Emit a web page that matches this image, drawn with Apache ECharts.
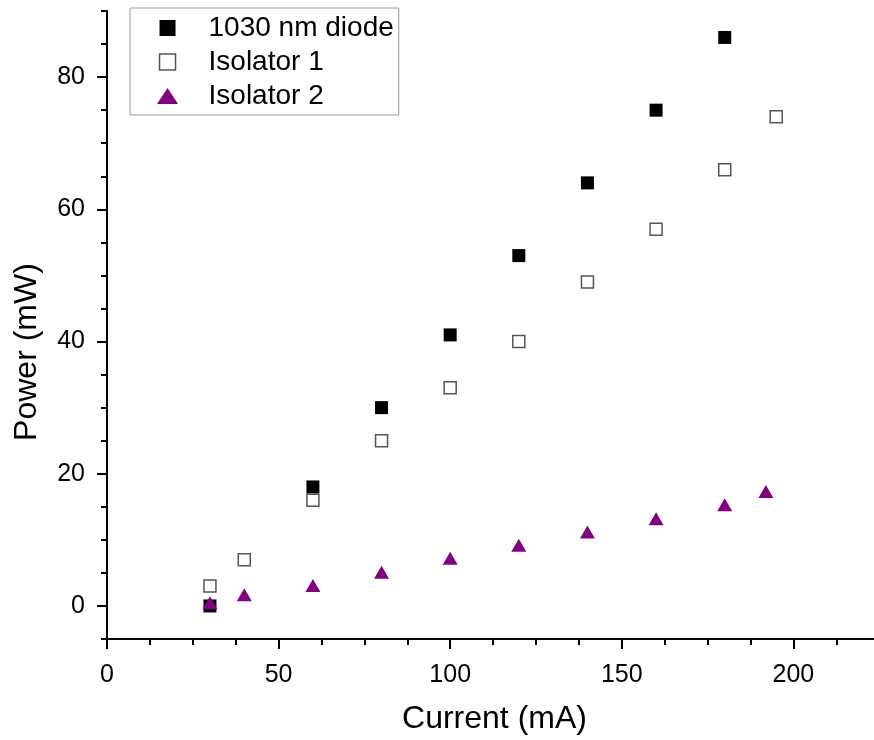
<!DOCTYPE html>
<html>
<head>
<meta charset="utf-8">
<script src="https://cdn.jsdelivr.net/npm/echarts@6/dist/echarts.min.js"></script>
<style>
  html, body { margin: 0; padding: 0; background: #fff; }
  #chart { width: 874px; height: 740px; }
</style>
</head>
<body>
<div id="chart"></div>
<script>
// ---- data ----
const diodeCurrent = [30, 60, 80, 100, 120, 140, 160, 180];
const diodePower   = [0, 18, 30, 41, 53, 64, 75, 86];

const iso1Current  = [30, 40, 60, 80, 100, 120, 140, 160, 180, 195];
const iso1Power    = [3, 7, 16, 25, 33, 40, 49, 57, 66, 74];

const iso2Current  = [30, 40, 60, 80, 100, 120, 140, 160, 180, 192];
const iso2Power    = [0.5, 1.7, 3.1, 5.1, 7.2, 9.2, 11.2, 13.2, 15.3, 17.3];

const seriesNames  = ['1030 nm diode', 'Isolator 1', 'Isolator 2'];
const xTickLabels  = [0, 50, 100, 150, 200];
const yTickLabels  = [0, 20, 40, 60, 80];
const xMin = 0, xMax = 223.5, yMin = -5, yMax = 90;

// ---- helpers ----
const pairs = (xs, ys) => xs.map((x, i) => [x, ys[i]]);
const xMinor = [];
for (let v = 12.5; v <= xMax; v += 12.5) if (v % 50 !== 0) xMinor.push(v);
const yMinor = [];
for (let v = yMin; v <= yMax; v += 5) if (v % 20 !== 0) yMinor.push(v);

const FONT = '"Liberation Sans", Arial, sans-serif';
const axisLine = { show: true, onZero: false, lineStyle: { color: '#000', width: 2 } };

const chart = echarts.init(document.getElementById('chart'), null, { renderer: 'canvas' });
chart.setOption({
  backgroundColor: '#fff',
  animation: false,
  grid: { left: 107, right: 0, top: 11, bottom: 101, containLabel: false },
  legend: {
    orient: 'vertical',
    left: 130, top: 8,
    padding: [6, 5, 5, 27],
    itemGap: 6,
    itemWidth: 72,
    itemHeight: 16,
    borderColor: '#999',
    borderWidth: 1,
    textStyle: { fontFamily: FONT, fontSize: 28, color: '#000' },
    data: [
      { name: seriesNames[0], icon: 'path://M0,0L1,0L1,1L0,1Z', itemStyle: { color: '#000', borderWidth: 0 } },
      { name: seriesNames[1], icon: 'path://M0,0L1,0L1,1L0,1Z', itemStyle: { color: '#fff', borderColor: '#555', borderWidth: 1.5 } },
      { name: seriesNames[2], icon: 'path://M0.5,0L1,0.76L0,0.76Z', itemStyle: { color: '#800080', borderWidth: 0 } }
    ]
  },
  xAxis: [
    {
      type: 'value', min: xMin, max: xMax, position: 'bottom',
      name: 'Current (mA)', nameLocation: 'middle', nameGap: 64,
      nameTextStyle: { fontFamily: FONT, fontSize: 32, color: '#000', padding: [0, 0, 0, 8] },
      axisLine: axisLine,
      axisTick: { show: true, inside: false, length: 10, customValues: xTickLabels, lineStyle: { color: '#000', width: 2 } },
      axisLabel: { show: true, margin: 24, customValues: xTickLabels, fontFamily: FONT, fontSize: 25, color: '#000' },
      splitLine: { show: false }
    },
    {
      type: 'value', min: xMin, max: xMax, position: 'bottom',
      axisLine: { show: false, onZero: false },
      axisTick: { show: true, inside: false, length: 6, customValues: xMinor, lineStyle: { color: '#000', width: 2 } },
      axisLabel: { show: false },
      splitLine: { show: false }
    }
  ],
  yAxis: [
    {
      type: 'value', min: yMin, max: yMax, position: 'left',
      axisLine: axisLine,
      axisTick: { show: true, inside: false, length: 10, customValues: yTickLabels, lineStyle: { color: '#000', width: 2 } },
      axisLabel: { show: true, margin: 22, customValues: yTickLabels, fontFamily: FONT, fontSize: 25, color: '#000' },
      splitLine: { show: false }
    },
    {
      type: 'value', min: yMin, max: yMax, position: 'left',
      axisLine: { show: false, onZero: false },
      axisTick: { show: true, inside: false, length: 6, customValues: yMinor, lineStyle: { color: '#000', width: 2 } },
      axisLabel: { show: false },
      splitLine: { show: false }
    }
  ],
  graphic: [
    {
      type: 'text', x: 27, y: 352, rotation: Math.PI / 2,
      style: { text: 'Power (mW)', fontFamily: FONT, fontSize: 32, fill: '#000', align: 'center', verticalAlign: 'middle' }
    }
  ],
  series: [
    {
      name: seriesNames[0], type: 'scatter', xAxisIndex: 0, yAxisIndex: 0,
      data: pairs(diodeCurrent, diodePower),
      symbol: 'rect', symbolSize: 13,
      itemStyle: { color: '#000', opacity: 1 }
    },
    {
      name: seriesNames[1], type: 'scatter', xAxisIndex: 0, yAxisIndex: 0,
      data: pairs(iso1Current, iso1Power),
      symbol: 'rect', symbolSize: 12,
      itemStyle: { color: '#fff', borderColor: '#555', borderWidth: 1.5, opacity: 1 }
    },
    {
      name: seriesNames[2], type: 'scatter', xAxisIndex: 0, yAxisIndex: 0,
      data: pairs(iso2Current, iso2Power),
      symbol: 'triangle', symbolSize: [15, 13],
      itemStyle: { color: '#800080', opacity: 1 }
    }
  ]
});
</script>
</body>
</html>
